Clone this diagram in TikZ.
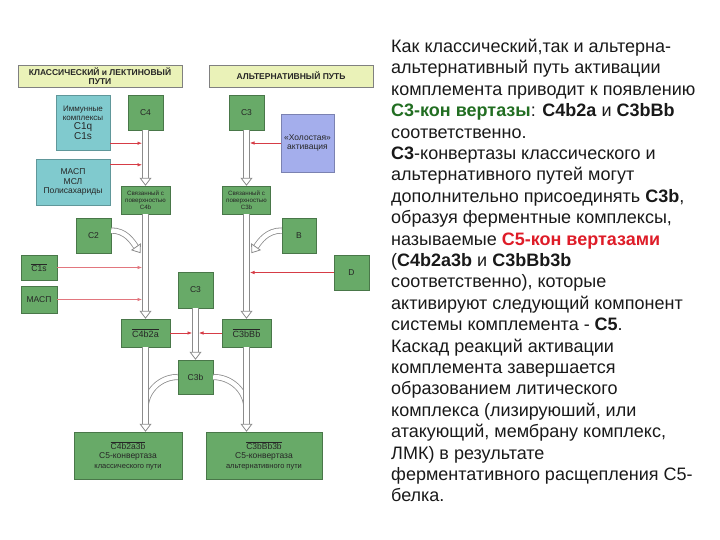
\documentclass[tikz,border=0pt]{standalone}
\usepackage{fontspec}
\setmainfont{Liberation Sans}
\usetikzlibrary{arrows.meta}

\definecolor{boxgreen}{RGB}{104,170,104}
\definecolor{boxteal}{RGB}{128,202,206}
\definecolor{boxlilac}{RGB}{164,174,236}
\definecolor{hdrfill}{RGB}{234,242,184}
\definecolor{arrred}{RGB}{214,60,70}
\definecolor{shaftgray}{RGB}{140,140,140}
\definecolor{convgreen}{RGB}{34,110,34}
\definecolor{convred}{RGB}{222,28,40}

\newcommand{\cplx}[1]{$\overline{\mbox{#1}}$}

\begin{document}
\begin{tikzpicture}[
		x=1pt, y=-1pt,
		every node/.style={font=\fontsize{8.5}{9.5}\selectfont, inner sep=1pt, align=center, text=black!85},
		wh/.style 2 args={minimum width=#1pt, minimum height=#2pt},
		gbox/.style={draw=boxgreen!70!black, fill=boxgreen},
		tbox/.style={draw=boxteal!75!black, fill=boxteal},
		lbox/.style={draw=boxlilac!75!black, fill=boxlilac},
		hdr/.style={draw=gray, fill=hdrfill, font=\fontsize{8.5}{8.5}\selectfont\bfseries},
		tiny/.style={font=\fontsize{6.2}{7}\selectfont},
		hollow/.style={draw=shaftgray, line width=0.8pt, double=white, double distance=4.5pt,
			-{Triangle[open, length=8pt, width=12pt, line width=0.8pt, fill=white]}},
		hollowline/.style={draw=shaftgray, line width=0.8pt, double=white, double distance=4.5pt},
		redarr/.style={draw=arrred, line width=0.6pt, -{Latex[length=4.5pt, width=3.5pt]}, shorten >=3.5pt}
	]
	\useasboundingbox (0,0) rectangle (720,540);

	\node[hdr, wh={164}{22}] (hdrcl) at (100,76) {КЛАССИЧЕСКИЙ и ЛЕКТИНОВЫЙ\\ПУТИ};
	\node[hdr, wh={164}{22}] (hdralt) at (291,76) {АЛЬТЕРНАТИВНЫЙ ПУТЬ};

	\node[tbox, wh={54}{55}, font=\fontsize{8}{9}\selectfont] (immune) at (83,122.5) {Иммунные\\комплексы\\{\fontsize{10}{11}\selectfont C1q}\\{\fontsize{10}{11}\selectfont C1s}};
	\node[tbox, wh={74}{46}] (maspl) at (73,182) {МАСП\\МСЛ\\Полисахариды};
	\node[gbox, wh={35}{35}] (cfour) at (145.5,112.5) {C4};
	\node[gbox, wh={49}{28}, tiny] (cfourb) at (145.5,200) {Связанный с\\поверхностью\\C4b};
	\node[gbox, wh={35}{35}] (ctwo) at (93.5,235.5) {C2};
	\node[gbox, wh={36}{25}] (cones) at (39,267.5) {\cplx{C1s}};
	\node[gbox, wh={36}{27}] (maspr) at (39,299.5) {МАСП};
	\node[gbox, wh={49}{28}, font=\fontsize{9}{10}\selectfont] (ctwoa) at (145.5,333) {\cplx{C4b2a}};

	\node[gbox, wh={35}{36}] (cthree) at (195.5,290) {C3};
	\node[gbox, wh={35}{34}] (cthreeb) at (195.5,377) {C3b};

	\node[gbox, wh={35}{35}] (cthreealt) at (246.5,112.5) {C3};
	\node[lbox, wh={53}{58}] (idle) at (307.5,143) {«Холостая»\\активация};
	\node[gbox, wh={48}{28}, tiny] (cthreeba) at (246.5,200) {Связанный с\\поверхностью\\C3b};
	\node[gbox, wh={34}{35}] (fb) at (299,235.5) {B};
	\node[gbox, wh={35}{35}] (fd) at (351.5,272.5) {D};
	\node[gbox, wh={49}{28}, font=\fontsize{9}{10}\selectfont] (cbb) at (246.5,333) {\cplx{C3bBb}};

	\node[gbox, wh={108}{47}] (convcl) at (128,455.5) {\cplx{C4b2a3b}\\C5-конвертаза\\{\fontsize{7.5}{8.5}\selectfont классического пути}};
	\node[gbox, wh={116}{47}] (convalt) at (264,455.5) {\cplx{C3bBb3b}\\C5-конвертаза\\{\fontsize{7.5}{8.5}\selectfont альтернативного пути}};

	\draw[hollowline] (cthreeb.west) to[out=180, in=90] ([yshift=-32pt]cthreeb.west -| ctwoa.south);
	\draw[hollowline] (cthreeb.east) to[out=0, in=90] ([yshift=-32pt]cthreeb.east -| cbb.south);
	\draw[hollow] (cfour) -- (cfourb);
	\draw[hollow] (cfourb) -- (ctwoa);
	\draw[hollow] (ctwoa.south) -- (ctwoa.south |- convcl.north);
	\draw[hollow] (cthreealt) -- (cthreeba);
	\draw[hollow] (cthreeba) -- (cbb);
	\draw[hollow] (cbb.south) -- (cbb.south |- convalt.north);
	\draw[hollow] (cthree) -- (cthreeb);
	\draw[hollow] ([yshift=5pt]ctwo.east) to[out=0, in=125] ([xshift=-5pt]ctwo.south -| cfourb.south);
	\draw[hollow] ([yshift=5pt]fb.west) to[out=180, in=55] ([xshift=5pt]fb.south -| cthreeba.south);

	\draw[redarr] ([yshift=7pt]immune.south east) -- ([yshift=7pt]immune.south east -| cfour);
	\draw[redarr] ([yshift=-6pt]maspl.north east) -- ([yshift=-6pt]maspl.north east -| cfour);
	\draw[redarr] (idle.west) -- (idle.west -| cthreealt);
	\draw[redarr, draw=arrred!70] (cones.east) -- (cones.east -| cfour);
	\draw[redarr, draw=arrred!70] (maspr.east) -- (maspr.east -| cfour);
	\draw[redarr] (fd.west) -- (fd.west -| cthreealt);
	\draw[redarr] (ctwoa.east) -- (ctwoa.east -| cthree);
	\draw[redarr] (cbb.west) -- (cbb.west -| cthree);

	\node[anchor=north west, align=left, inner sep=0pt, text=black!90, font=\fontsize{18}{21.4}\selectfont] (summary) at (391,39) {Как классический,так и альтерна-\\
		альтернативный путь активации\\
		комплемента приводит к появлению\\
		{\color{convgreen}\bfseries C3-кон вертазы}: \textbf{C4b2a} и \textbf{C3bBb}\\
		соответственно.\\
		\textbf{C3}-конвертазы классического и\\
		альтернативного путей могут\\
		дополнительно присоединять \textbf{C3b},\\
		образуя ферментные комплексы,\\
		называемые {\color{convred}\bfseries C5-кон вертазами}\\
		(\textbf{C4b2a3b} и \textbf{C3bBb3b}\\
		соответственно), которые\\
		активируют следующий компонент\\
		системы комплемента - \textbf{C5}.\\
		Каскад реакций активации\\
		комплемента завершается\\
		образованием литического\\
		комплекса (лизируюший, или\\
		атакующий, мембрану комплекс,\\
		ЛМК) в результате\\
		ферментативного расщепления C5-\\
		белка.};
\end{tikzpicture}
\end{document}
